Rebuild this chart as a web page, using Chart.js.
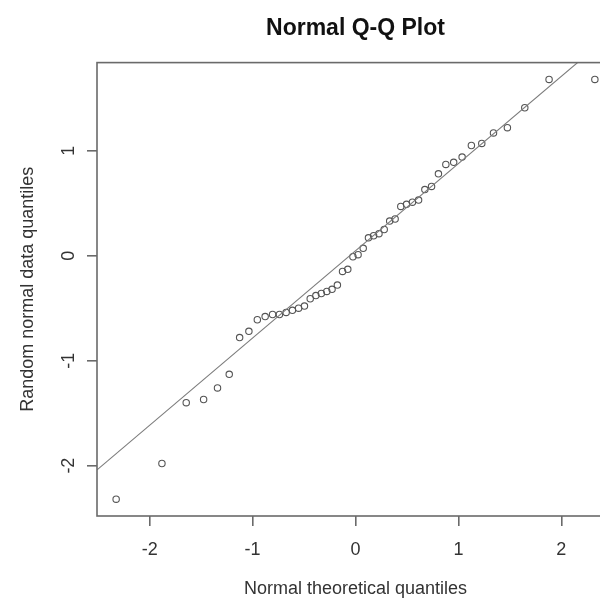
<!DOCTYPE html>
<html>
<head>
<meta charset="utf-8">
<script src="https://cdn.jsdelivr.net/npm/chart.js@4/dist/chart.umd.min.js"></script>
<style>
  html, body { margin: 0; padding: 0; background: #fff; overflow: hidden; }
  #wrap { width: 620px; height: 602px; }
</style>
</head>
<body>
<div id="wrap"><canvas id="qq" width="620" height="602"></canvas></div>
<script>
// theoretical normal quantiles, qnorm(ppoints(50))
const theoretical = [
  -2.326, -1.881, -1.645, -1.476, -1.341, -1.227, -1.126, -1.036, -0.954, -0.878,
  -0.806, -0.739, -0.674, -0.613, -0.553, -0.496, -0.440, -0.385, -0.332, -0.279,
  -0.228, -0.176, -0.126, -0.075, -0.025, 0.025, 0.075, 0.126, 0.176, 0.228,
  0.279, 0.332, 0.385, 0.440, 0.496, 0.553, 0.613, 0.674, 0.739, 0.806,
  0.878, 0.954, 1.036, 1.126, 1.227, 1.341, 1.476, 1.645, 1.881, 2.326
];
// sorted sample values
const sample = [
  -2.32, -1.98, -1.40, -1.37, -1.26, -1.13, -0.78, -0.72, -0.61, -0.58,
  -0.56, -0.56, -0.54, -0.52, -0.50, -0.48, -0.41, -0.38, -0.36, -0.34,
  -0.32, -0.28, -0.15, -0.13, -0.01, 0.01, 0.07, 0.17, 0.19, 0.21,
  0.25, 0.33, 0.35, 0.47, 0.49, 0.51, 0.53, 0.63, 0.66, 0.78,
  0.87, 0.89, 0.94, 1.05, 1.07, 1.17, 1.22, 1.41, 1.68, 1.68
];
// qqline through the quartiles
const lineIntercept = 0.047;
const lineSlope = 0.831;
const xTicks = [-2, -1, 0, 1, 2];
const yTicks = [-2, -1, 0, 1];

const xMin = -2.512, xMax = 2.512;
const yMin = -2.48, yMax = 1.84;

const points = theoretical.map((q, i) => ({ x: q, y: sample[i] }));
const linePts = [
  { x: xMin, y: lineIntercept + lineSlope * xMin },
  { x: xMax, y: lineIntercept + lineSlope * xMax }
];

const textColor = "#333";
const axisColor = "#6a6a6a";
const fontFamily = "'Liberation Sans', Arial, sans-serif";

// R style box round the plot region
const boxPlugin = {
  id: "box",
  afterDraw(chart) {
    const a = chart.chartArea;
    const ctx = chart.ctx;
    ctx.save();
    ctx.strokeStyle = axisColor;
    ctx.lineWidth = 1.6;
    ctx.strokeRect(a.left, a.top, a.right - a.left, a.bottom - a.top);
    ctx.restore();
  }
};

new Chart(document.getElementById("qq").getContext("2d"), {
  type: "scatter",
  data: {
    datasets: [
      {
        type: "line",
        data: linePts,
        borderColor: "#7a7a7a",
        borderWidth: 1.1,
        pointRadius: 0,
        fill: false,
        clip: 0
      },
      {
        data: points,
        pointStyle: "circle",
        pointRadius: 3.2,
        pointBorderWidth: 1.1,
        pointBorderColor: "#555",
        pointBackgroundColor: "rgba(0,0,0,0)"
      }
    ]
  },
  options: {
    responsive: false,
    devicePixelRatio: 1,
    animation: false,
    layout: { padding: { left: 0, right: 6, top: 0, bottom: 0 } },
    plugins: {
      legend: { display: false },
      tooltip: { enabled: false },
      title: {
        display: true,
        text: "Normal Q-Q Plot",
        fullSize: false,
        color: "#111",
        font: { family: fontFamily, size: 23, weight: "bold" },
        padding: { top: 15, bottom: 20 }
      }
    },
    scales: {
      x: {
        type: "linear",
        min: xMin,
        max: xMax,
        afterBuildTicks: (s) => { s.ticks = xTicks.map(v => ({ value: v })); },
        afterFit: (s) => { s.height = 86; },
        ticks: {
          color: textColor,
          font: { family: fontFamily, size: 18 },
          padding: 13,
          includeBounds: false,
          maxRotation: 0
        },
        grid: { drawOnChartArea: false, tickLength: 10, color: axisColor, lineWidth: 1.6 },
        border: { display: false },
        title: {
          display: true,
          text: "Normal theoretical quantiles",
          color: textColor,
          font: { family: fontFamily, size: 18 },
          padding: { top: 0, bottom: 2 }
        }
      },
      y: {
        type: "linear",
        min: yMin,
        max: yMax,
        afterBuildTicks: (s) => { s.ticks = yTicks.map(v => ({ value: v })); },
        afterFit: (s) => { s.width = 97; },
        ticks: {
          color: textColor,
          font: { family: fontFamily, size: 18 },
          padding: 10,
          includeBounds: false,
          minRotation: 90,
          maxRotation: 90,
          crossAlign: "center"
        },
        grid: { drawOnChartArea: false, tickLength: 10, color: axisColor, lineWidth: 1.6 },
        border: { display: false },
        title: {
          display: true,
          text: "Random normal data quantiles",
          color: textColor,
          font: { family: fontFamily, size: 18 },
          padding: { top: 17, bottom: 0 }
        }
      }
    }
  },
  plugins: [boxPlugin]
});
</script>
</body>
</html>
